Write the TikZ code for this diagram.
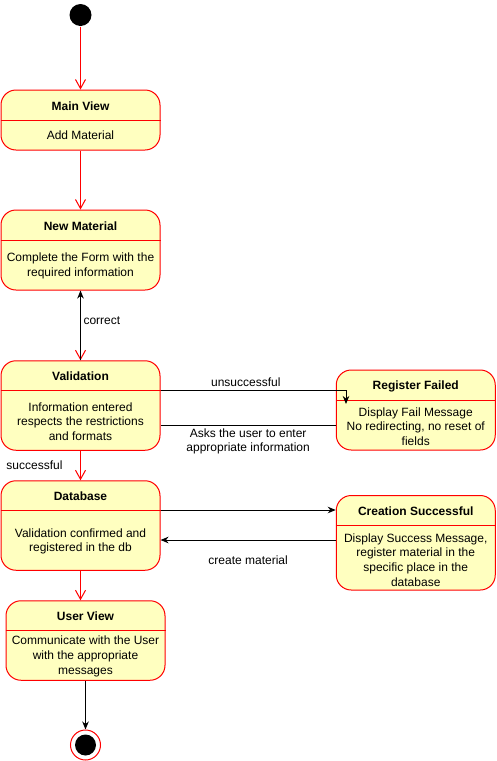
\documentclass[tikz,border=0pt]{standalone}
\usepackage{fontspec}
\setmainfont{Liberation Sans}
\usetikzlibrary{arrows.meta,positioning}
\definecolor{statefill}{HTML}{FFFFC0}
\begin{document}
\begin{tikzpicture}[x=1pt,y=-1pt,line width=1pt,
  font=\fontsize{12}{14.7}\selectfont,
  state/.style={draw=red, fill=statefill, rounded corners=15pt, minimum width=159pt, inner sep=0pt},
  sname/.style={font=\fontsize{12}{14.7}\selectfont\bfseries, inner sep=0pt, yshift=-1pt},
  sbody/.style={align=center, inner sep=0pt, yshift=-1.5pt},
  lbl/.style={inner sep=0pt, align=center, text=black},
  redflow/.style={red, -{Straight Barb[length=9pt,width=10pt]}},
  flow/.style={black, -{Stealth[length=8pt,width=6.5pt,inset=2.5pt]}}]
\useasboundingbox (0,0) rectangle (496,761);
% start
\node[circle, fill=black, minimum size=22pt, inner sep=0pt] (start) at (80.5,15) {};
% Main View
\node[state, minimum height=60pt] (main) at (80.5,120) {};
\draw[red] (main.west |- 0,120) -- (main.east |- 0,120);
\node[sname] (maint) at (80.5,105) {Main View};
\node[sbody] (mainb) at (80.5,134) {Add Material};
% New Material
\node[state, minimum height=80pt] (new) at (80.5,250) {};
\draw[red] (new.west |- 0,240) -- (new.east |- 0,240);
\node[sname] (newt) at (80.5,225) {New Material};
\node[sbody] (newb) at (80.5,264.5) {Complete the Form with the\\required information};
% Validation
\node[state, minimum height=89.5pt] (val) at (80.5,405.5) {};
\draw[red] (val.west |- 0,390) -- (val.east |- 0,390);
\node[sname] (valt) at (80.5,375.5) {Validation};
\node[sbody] (valb) at (80.5,420) {Information entered\\respects the restrictions\\and formats};
% Register Failed
\node[state, minimum height=80pt] (fail) at (415.75,410) {};
\draw[red] (fail.west |- 0,400) -- (fail.east |- 0,400);
\node[sname] (failt) at (415.75,385.5) {Register Failed};
\node[sbody] (failb) at (415.75,425) {Display Fail Message\\No redirecting, no reset of\\fields};
% Database
\node[state, minimum height=89.5pt] (db) at (80.5,525.5) {};
\draw[red] (db.west |- 0,510) -- (db.east |- 0,510);
\node[sname] (dbt) at (80.5,495.5) {Database};
\node[sbody] (dbb) at (80.5,540) {Validation confirmed and\\registered in the db};
% Creation Successful
\node[state, minimum height=94.5pt] (succ) at (415.75,542.75) {};
\draw[red] (succ.west |- 0,525) -- (succ.east |- 0,525);
\node[sname] (succt) at (415.75,510.5) {Creation Successful};
\node[sbody] (succb) at (415.75,558.5) {Display Success Message,\\register material in the\\specific place in the\\database};
% User View
\node[state, minimum height=79.5pt] (user) at (85.5,640.5) {};
\draw[red] (user.west |- 0,630) -- (user.east |- 0,630);
\node[sname] (usert) at (85.5,615.5) {User View};
\node[sbody] (userb) at (85.5,655) {Communicate with the User\\with the appropriate\\messages};
% end
\node[circle, draw=red, fill=white, minimum size=30pt, inner sep=0pt] (final) at (85.5,745) {};
\node[circle, fill=black, minimum size=21pt, inner sep=0pt] (finaldot) at (final) {};
% transitions
\draw[redflow] (start) -- (main);
\draw[redflow] (main) -- (new);
\draw[redflow] (new) -- (val);
\draw[flow] (val) -- (new) node[lbl, pos=0.57, right=2.5pt] {correct};
\coordinate (failin) at (346,404);
\draw[flow] (val.east |- 0,390) -| (failin) node[lbl, pos=0.23, above=3pt] {unsuccessful};
\draw (fail.west |- 0,425) -- (val.east |- 0,425) node[lbl, midway, below=3pt] {Asks the user to enter\\appropriate information};
\draw[redflow] (val) -- (db) node[lbl, midway, left=17.5pt] {successful};
\draw[flow] (db.east |- 0,510) -- (succ.west |- 0,510);
\draw[flow] (succ.west |- 0,540) -- (db.east |- 0,540) node[lbl, midway, below=15pt] {create material};
\draw[redflow] (db.south) -- (db.south |- user.north);
\draw[flow] (user) -- (final);
\end{tikzpicture}
\end{document}
